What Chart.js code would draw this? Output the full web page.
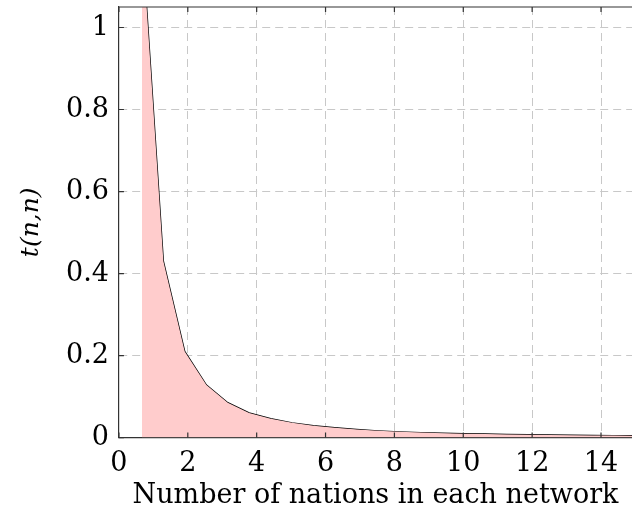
<!DOCTYPE html>
<html>
<head>
<meta charset="utf-8">
<script src="https://cdn.jsdelivr.net/npm/chart.js@4"></script>
<style>
  html, body { margin: 0; padding: 0; background: #fff; }
  #wrap { width: 632px; height: 522px; }
</style>
</head>
<body>
<div id="wrap"><canvas id="tChart" width="632" height="522"></canvas></div>
<script>
// number of nations (x) and t(n,n) (y)
var nations = [0.67, 1.29, 1.91, 2.54, 3.16, 3.78, 4.41, 5.03, 5.65, 6.27, 6.90, 7.52,
               8.14, 8.77, 9.39, 10.01, 10.63, 11.26, 11.88, 12.50, 13.13, 13.75, 14.37, 15.00];
var tValues = [1.22, 0.43, 0.21, 0.128, 0.085, 0.060, 0.046, 0.036, 0.029, 0.024, 0.020, 0.0165,
               0.014, 0.0122, 0.0108, 0.0096, 0.0086, 0.0077, 0.0070, 0.0063, 0.0058, 0.0053, 0.0049, 0.0045];
var xTicks = [0, 2, 4, 6, 8, 10, 12, 14];
var yTicks = [0, 0.2, 0.4, 0.6, 0.8, 1];

var points = nations.map(function (n, i) { return { x: n, y: tValues[i] }; });

var serif = "'DejaVu Serif', serif";

var ctx = document.getElementById('tChart').getContext('2d');
var tChart = new Chart(ctx, {
    type: 'line',
    data: {
        datasets: [{
            // fill drawn on top of the line (dataset 0 is drawn last)
            data: points,
            borderWidth: 0,
            borderColor: 'rgba(0,0,0,0)',
            backgroundColor: '#ffcccc',
            fill: 'origin',
            pointRadius: 0,
            tension: 0
        }, {
            data: points,
            borderColor: '#000',
            borderWidth: 1.4,
            fill: false,
            pointRadius: 0,
            tension: 0
        }]
    },
    options: {
        responsive: false,
        animation: false,
        layout: { padding: { top: 7, right: 0, bottom: 13, left: 13 } },
        plugins: { legend: { display: false }, tooltip: { enabled: false } },
        scales: {
            x: {
                type: 'linear',
                min: 0,
                max: 14.9,
                afterBuildTicks: function (axis) {
                    axis.ticks = xTicks.map(function (v) { return { value: v }; });
                },
                ticks: { font: { family: serif, size: 27 }, color: '#000', padding: 10, maxRotation: 0 },
                grid: { color: '#c8c8c8', lineWidth: 1, drawTicks: false },
                border: { display: true, color: '#333', width: 1.2, dash: [8, 5] },
                title: {
                    display: true,
                    text: 'Number of nations in each network',
                    font: { family: serif, size: 27, lineHeight: 1 },
                    color: '#000',
                    padding: { top: -8, bottom: 0 }
                }
            },
            y: {
                type: 'linear',
                min: 0,
                max: 1.05,
                afterBuildTicks: function (axis) {
                    axis.ticks = yTicks.map(function (v) { return { value: v }; });
                },
                // top label sits below the axis end, so no extra room is needed
                afterFit: function (axis) {
                    axis.paddingTop = 0;
                    axis.paddingBottom = 0;
                },
                ticks: {
                    font: { family: serif, size: 27 },
                    color: '#000',
                    padding: 10,
                    callback: function (v) { return String(Math.round(v * 10) / 10); }
                },
                grid: { color: '#c8c8c8', lineWidth: 1, drawTicks: false },
                border: { display: true, color: '#333', width: 1.2, dash: [8, 5] },
                title: {
                    display: true,
                    text: 't(n,n)',
                    font: { family: serif, size: 25, style: 'italic' },
                    color: '#000',
                    padding: { top: 3, bottom: 10 }
                }
            }
        }
    },
    plugins: [{
        // top frame line and inward tick marks (pgfplots style)
        id: 'frameTicks',
        afterDraw: function (chart) {
            var a = chart.chartArea;
            var c = chart.ctx;
            var xs = chart.scales.x, ys = chart.scales.y;
            var len = 5;
            c.save();
            c.strokeStyle = '#333';
            c.lineWidth = 1.2;
            c.beginPath();
            c.moveTo(a.left, a.top);
            c.lineTo(a.right, a.top);
            xTicks.forEach(function (v) {
                var px = xs.getPixelForValue(v);
                c.moveTo(px, a.bottom);
                c.lineTo(px, a.bottom - len);
                c.moveTo(px, a.top);
                c.lineTo(px, a.top + len);
            });
            yTicks.forEach(function (v) {
                var py = ys.getPixelForValue(v);
                c.moveTo(a.left, py);
                c.lineTo(a.left + len, py);
            });
            c.stroke();
            c.restore();
        }
    }]
});
</script>
</body>
</html>
